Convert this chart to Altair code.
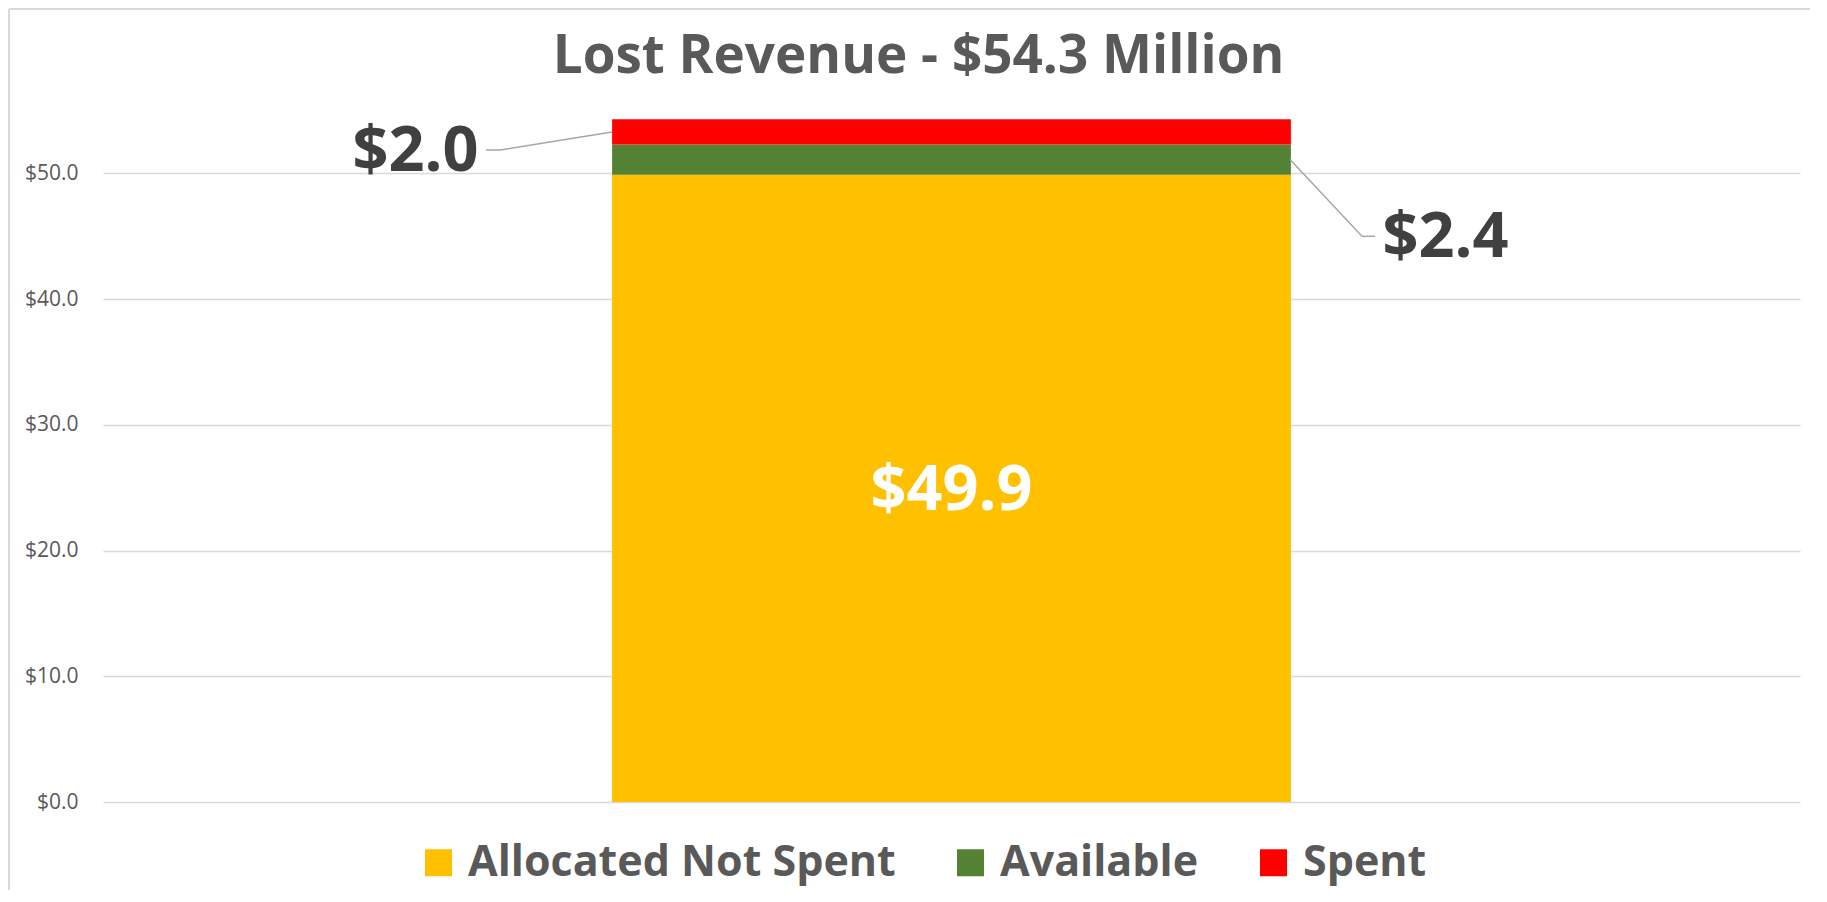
import altair as alt
import pandas as pd

# ---- data ----
categories = ["Allocated Not Spent", "Available", "Spent"]
values = [49.9, 2.4, 2.0]
value_labels = ["$49.9", "$2.4", "$2.0"]
colors = ["#FFC000", "#548235", "#FF0000"]
y_ticks = [0, 10, 20, 30, 40, 50]
group_name = "Lost Revenue"
title_text = "Lost Revenue - $54.3 Million"

df = pd.DataFrame({
    "group": group_name,
    "category": categories,
    "value": values,
    "label": value_labels,
    "order": list(range(len(categories))),
})
df["top"] = df["value"].cumsum()
df["mid"] = df["top"] - df["value"] / 2

W, H = 1697, 704
FONT = "Open Sans"
TXT = "#595959"
LBL = "#404040"
LABEL_SIZE = 63

x_enc = alt.X("group:N", scale=alt.Scale(paddingOuter=0.75, paddingInner=0), axis=None)

bars = alt.Chart(df).mark_bar().encode(
    x=x_enc,
    y=alt.Y("value:Q", stack="zero", title=None,
            scale=alt.Scale(domain=[0, 56], nice=False),
            axis=alt.Axis(values=y_ticks, format="$.1f", grid=True, domain=False,
                          ticks=False, tickSize=0, labelPadding=25,
                          labelFont=FONT, labelFontSize=21, labelColor=TXT,
                          gridColor="#d9d9d9", gridWidth=1.3)),
    color=alt.Color("category:N",
                    scale=alt.Scale(domain=categories, range=colors),
                    legend=alt.Legend(title=None, orient="none", direction="horizontal",
                                      legendX=314, legendY=743, symbolType="square",
                                      symbolSize=729, symbolStrokeWidth=0,
                                      labelFont=FONT, labelFontSize=43, labelFontWeight="bold",
                                      labelColor=TXT, labelOffset=8, columnPadding=53,
                                      labelLimit=700)),
    order=alt.Order("order:Q", sort="ascending"),
)

inner = alt.Chart(df).transform_filter(alt.datum.category == categories[0]).mark_text(
    font=FONT, fontSize=LABEL_SIZE, fontWeight="bold", color="white", baseline="middle", dy=3
).encode(x=x_enc, y=alt.Y("mid:Q", title=None), text="label:N")

lab_spent = alt.Chart(df).transform_filter(alt.datum.category == categories[2]).mark_text(
    font=FONT, fontSize=LABEL_SIZE, fontWeight="bold", color=LBL, baseline="middle", dx=-536, dy=20
).encode(x=x_enc, y=alt.Y("mid:Q", title=None), text="label:N")

lab_avail = alt.Chart(df).transform_filter(alt.datum.category == categories[1]).mark_text(
    font=FONT, fontSize=LABEL_SIZE, fontWeight="bold", color=LBL, baseline="middle", dx=494, dy=78
).encode(x=x_enc, y=alt.Y("mid:Q", title=None), text="label:N")

# leader lines: start at the segment middle, end near the label
lead = df.copy()
lead["spent_end"] = lead["mid"] - 1.44
lead["avail_end"] = lead["mid"] - 6.1

def seg(cat, x1, x2, yf1, yf2):
    return alt.Chart(lead).transform_filter(alt.datum.category == cat).mark_rule(
        color="#a6a6a6", strokeWidth=1.5
    ).encode(x=alt.value(x1), x2=alt.value(x2),
             y=alt.Y(f"{yf1}:Q", title=None), y2=alt.Y2(f"{yf2}:Q"))

leaders = [
    seg(categories[2], 509, 397, "mid", "spent_end"),
    seg(categories[2], 397, 383, "spent_end", "spent_end"),
    seg(categories[1], 1187, 1259, "mid", "avail_end"),
    seg(categories[1], 1259, 1272, "avail_end", "avail_end"),
]

# chart-area frame (left and top edges visible in the reference)
frame_left = alt.Chart(df.head(1)).mark_rule(color="#d9d9d9", strokeWidth=2).encode(
    x=alt.value(-94), y=alt.value(-89), y2=alt.value(H + 90))
frame_top = alt.Chart(df.head(1)).mark_rule(color="#d9d9d9", strokeWidth=2).encode(
    x=alt.value(-94), x2=alt.value(W + 10), y=alt.value(-89))

chart = alt.layer(frame_left, frame_top, bars, inner, lab_spent, lab_avail, *leaders).properties(
    width=W, height=H,
    background="white",
    title=alt.TitleParams(title_text, font=FONT, fontSize=53, fontWeight="bold",
                          color=TXT, anchor="middle", frame="group", dx=-33, offset=-76),
    autosize=alt.AutoSizeParams(type="none"),
    padding={"left": 95, "top": 90, "right": 10, "bottom": 88},
).configure_view(stroke=None)

chart.save("out.html", embed_options={"renderer": "svg", "actions": False})
